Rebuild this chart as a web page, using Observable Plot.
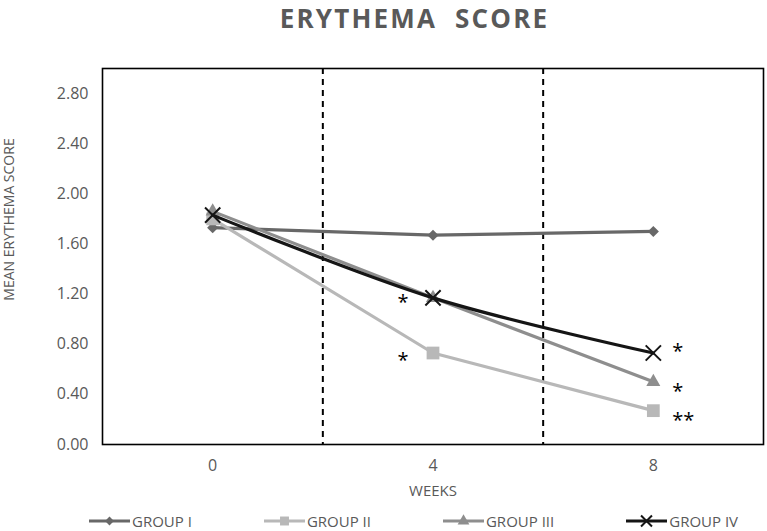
<!DOCTYPE html>
<html>
<head>
<meta charset="utf-8">
<script src="https://cdn.jsdelivr.net/npm/d3@7"></script>
<script src="https://cdn.jsdelivr.net/npm/@observablehq/plot@0.6"></script>
<style>
  html, body { margin: 0; padding: 0; background: #fff; overflow: hidden; }
  body { width: 767px; height: 531px; font-family: "Open Sans", sans-serif; }
  #title { height: 40px; line-height: 36px; text-align: center; padding-left: 62px;
           font-weight: 700; font-size: 26px; letter-spacing: 2.2px; color: #595959; box-sizing: border-box; }
  #legend { height: 20px; line-height: 20px; display: flex; gap: 72px; padding-left: 89px;
            font-size: 15px; color: #595959; white-space: nowrap; }
  .item { display: flex; align-items: center; gap: 2px; }
  .item svg { display: block; }
</style>
</head>
<body>
<div id="title">ERYTHEMA&nbsp; SCORE</div>
<div id="chart"></div>
<div id="legend"></div>
<script>
// ---- data ----
const weeks = [0, 4, 8];
const groupNames = ["GROUP I", "GROUP II", "GROUP III", "GROUP IV"];
const groupI   = [1.73, 1.67, 1.70];
const groupII  = [1.80, 0.73, 0.27];
const groupIII = [1.86, 1.17, 0.50];
const groupIV  = [1.83, 1.17, 0.73];
const yTicks = [0, 0.4, 0.8, 1.2, 1.6, 2.0, 2.4, 2.8];
const xTicks = [0, 4, 8];
const dividers = [2, 6];
// significance markers (week, label y-position in score units, text)
const annWeek  = [4, 4, 8, 8, 8];
const annValue = [1.165, 0.70, 0.775, 0.455, 0.22];
const annLabel = ["*", "*", "*", "*", "**"];

// ---- styles ----
const colors  = ["#686868", "#b8b8b8", "#8e8e8e", "#151515"];
const symbols = ["diamond2", "square", "triangle", "times"];
const radii   = [5.0, 7.2, 5.2, 7.0];
const curves  = ["linear", "linear", "linear", "catmull-rom"];

const series = [groupI, groupII, groupIII, groupIV];
const rows = series.map((vals, g) => weeks.map((w, i) => ({group: groupNames[g], week: w, value: vals[i]})));
const anns = annWeek.map((w, i) => ({week: w, value: annValue[i], label: annLabel[i]}));

const marks = [
  Plot.ruleX(dividers, {stroke: "#000", strokeWidth: 2, strokeDasharray: "6,5"}),
  Plot.frame({stroke: "#000", strokeWidth: 1.6}),
  Plot.axisY(yTicks, {tickSize: 0, tickPadding: 14, tickFormat: d3.format(".2f"), fontSize: 16, color: "#595959", label: null}),
  Plot.axisX(xTicks, {tickSize: 0, tickPadding: 15, fontSize: 16, color: "#595959", label: null}),
  Plot.text(["MEAN ERYTHEMA SCORE"], {frameAnchor: "left", textAnchor: "middle", rotate: -90, dx: -93, dy: -37, fontSize: 14, fill: "#595959"}),
  Plot.text(["WEEKS"], {frameAnchor: "bottom", dy: 51, fontSize: 15, fill: "#595959"})
];
rows.forEach((data, g) => {
  marks.push(Plot.line(data, {x: "week", y: "value", stroke: colors[g], strokeWidth: 3.2, curve: curves[g]}));
  if (symbols[g] === "times") {
    marks.push(Plot.dot(data, {x: "week", y: "value", symbol: symbols[g], r: radii[g], stroke: colors[g], strokeWidth: 2, fill: "none"}));
  } else {
    marks.push(Plot.dot(data, {x: "week", y: "value", symbol: symbols[g], r: radii[g], fill: colors[g], stroke: "none"}));
  }
});
marks.push(Plot.text(anns.filter(d => d.week === 4), {x: "week", y: "value", text: "label", dx: -30, dy: 4, fontSize: 20, fill: "#000", textAnchor: "middle"}));
marks.push(Plot.text(anns.filter(d => d.week === 8), {x: "week", y: "value", text: "label", dx: 19, dy: 4, fontSize: 20, fill: "#000", textAnchor: "start"}));

const plot = Plot.plot({
  width: 767,
  height: 471,
  marginLeft: 102,
  marginRight: 4,
  marginTop: 28,
  marginBottom: 67,
  style: {fontFamily: "'Open Sans', sans-serif", background: "#fff"},
  x: {domain: [-2, 10], axis: null},
  y: {domain: [0, 3], axis: null},
  marks
});
plot.style.display = "block";
document.getElementById("chart").appendChild(plot);

// ---- legend ----
const legend = d3.select("#legend");
const symMap = {diamond2: d3.symbolDiamond2, square: d3.symbolSquare, triangle: d3.symbolTriangle, times: d3.symbolTimes};
const sizes = {diamond2: 50, square: 80, triangle: 60, times: 80};
groupNames.forEach((name, g) => {
  const item = legend.append("div").attr("class", "item");
  const svg = item.append("svg").attr("width", 41).attr("height", 16);
  svg.append("line").attr("x1", 0).attr("x2", 41).attr("y1", 8).attr("y2", 8)
    .attr("stroke", colors[g]).attr("stroke-width", 3.2);
  const p = svg.append("path").attr("transform", "translate(20.5,8)")
    .attr("d", d3.symbol(symMap[symbols[g]], sizes[symbols[g]])());
  if (symbols[g] === "times") p.attr("fill", "none").attr("stroke", colors[g]).attr("stroke-width", 2);
  else p.attr("fill", colors[g]);
  item.append("span").text(name);
});
</script>
</body>
</html>
